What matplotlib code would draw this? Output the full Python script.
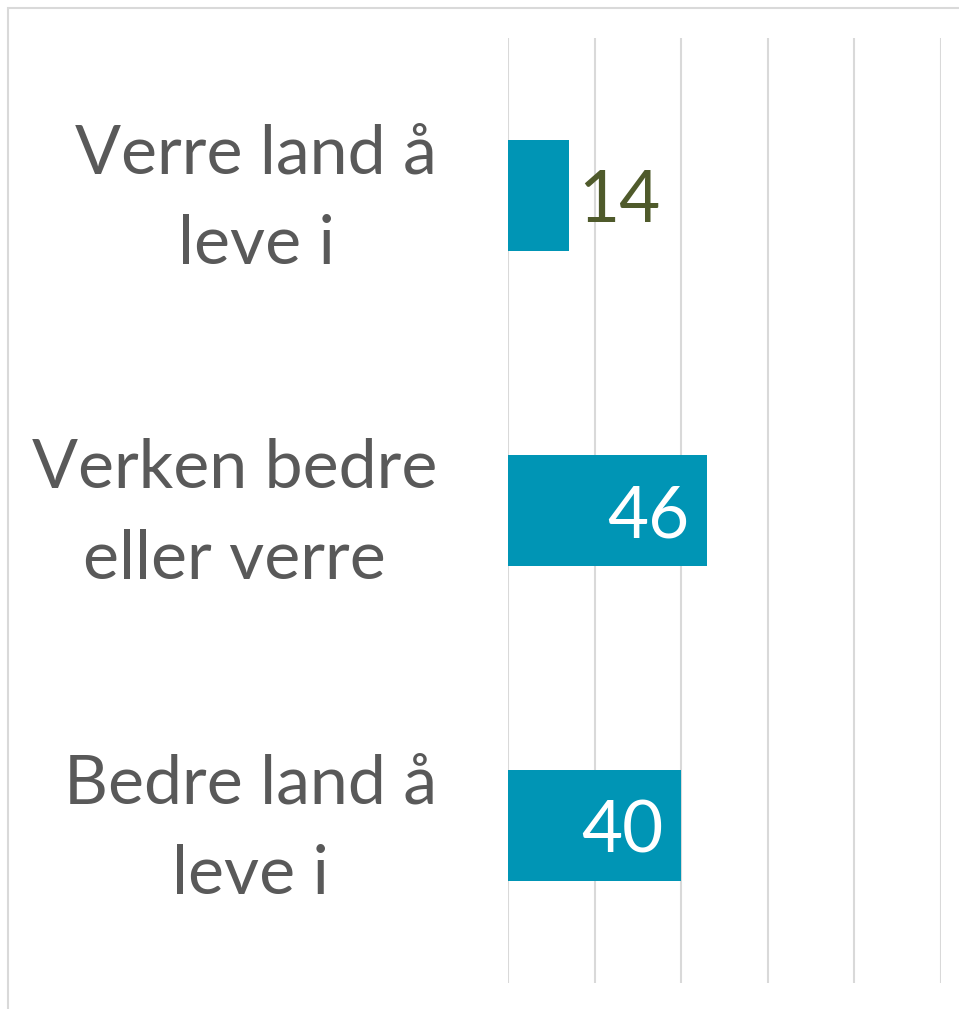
import matplotlib
matplotlib.use("Agg")
import matplotlib.pyplot as plt
from matplotlib.patches import Rectangle

# categories bottom -> top
categories = ["Bedre land å\nleve i", "Verken bedre\neller verre", "Verre land å\nleve i"]
values = [40, 46, 14]
ticks = [0, 20, 40, 60, 80, 100]

BAR = "#0095B5"
GRAY = "#595959"
OLIVE = "#4F5A2B"

plt.rcParams["font.family"] = ["Lato", "DejaVu Sans"]

fig = plt.figure(figsize=(9.59, 10.09), dpi=100)
ax = fig.add_axes([508 / 959, 1 - 983 / 1009, 433 / 959, 945 / 1009])

# outer chart border (only top/left visible in the crop)
fig.patches.append(Rectangle((8 / 959, -0.1), 1.2, 1 - 7.5 / 1009 + 0.1,
                             transform=fig.transFigure, fill=False,
                             edgecolor="#D9D9D9", linewidth=1.5))

y = range(len(categories))
ax.barh(y, values, height=0.352, color=BAR, zorder=2)

for i, v in enumerate(values):
    if v < 20:
        ax.annotate(str(v), (v, i), xytext=(7, -4.5), textcoords="offset points",
                    ha="left", va="center", fontsize=51, color=OLIVE)
    else:
        ax.annotate(str(v), (v, i), xytext=(-13, -4.5), textcoords="offset points",
                    ha="right", va="center", fontsize=51, color="white")

# category labels, centred lines, block right-aligned left of the axis
for i, lab in enumerate(categories):
    ax.annotate(lab, (0, i), xycoords=ax.get_yaxis_transform(),
                xytext=(-51, -3), textcoords="offset points",
                ha="right", va="center", multialignment="center",
                linespacing=1.58, fontsize=49, color=GRAY)

ax.set_xlim(0, 100)
ax.set_ylim(-0.5, 2.5)
ax.set_xticks(ticks)
ax.set_yticks([])
ax.xaxis.grid(True, color="#D9D9D9", linewidth=1.5, zorder=0)
ax.tick_params(axis="x", length=0, labelbottom=False)
for s in ax.spines.values():
    s.set_visible(False)

fig.savefig("out.png", dpi=100)
